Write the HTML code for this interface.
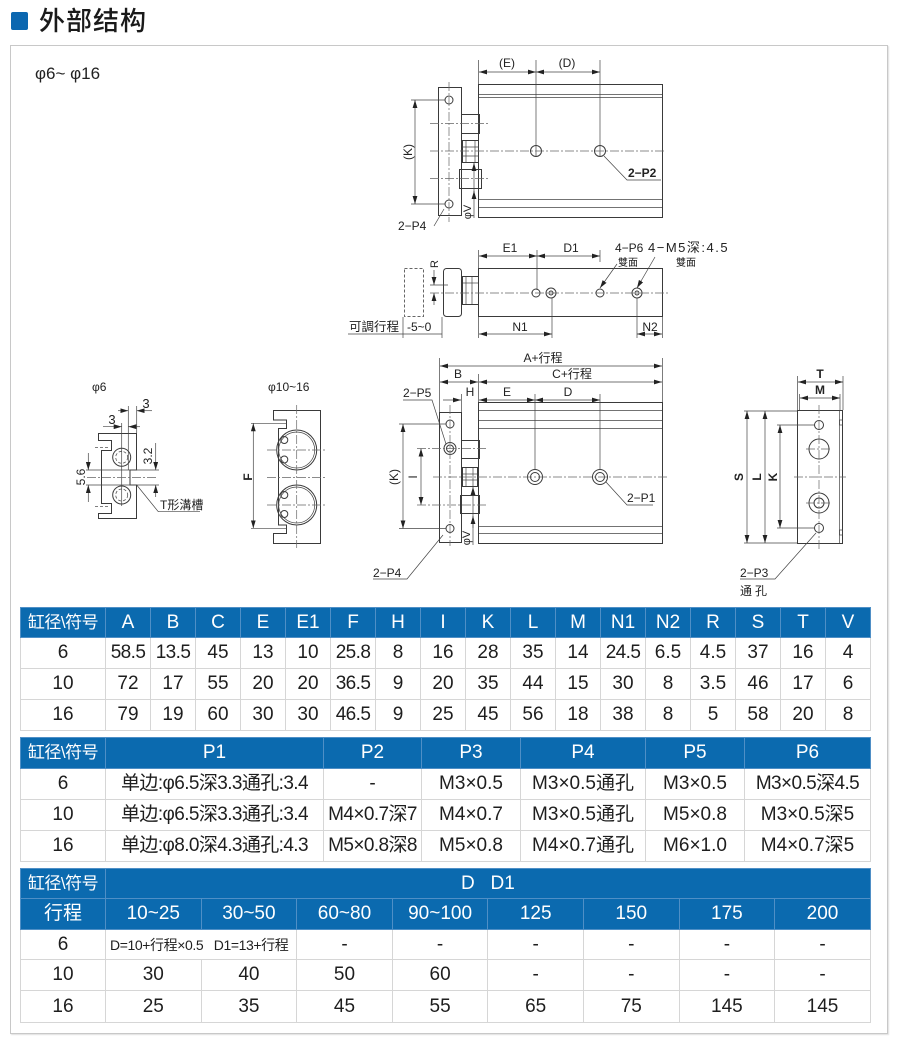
<!DOCTYPE html>
<html><head><meta charset="utf-8">
<style>
html,body{margin:0;padding:0;background:#fff;}
body{width:900px;height:1048px;position:relative;overflow:hidden;font-family:"Liberation Sans","Noto Sans CJK SC",sans-serif;}
.sq{position:absolute;left:11px;top:12px;width:17px;height:18px;background:#0b67b0;border-radius:2px;}
.title{position:absolute;left:39px;top:3px;font-size:26px;line-height:36px;color:#1a1a1a;font-family:"Liberation Sans","Noto Sans CJK SC",sans-serif;font-weight:500;letter-spacing:1px;}
.box{position:absolute;left:10px;top:45px;width:876px;height:987px;border:1px solid #c8c8c8;box-shadow:1px 1px 1px #e0e0e0;}
.phi{position:absolute;left:35px;top:64px;font-size:17px;color:#222;}
svg{position:absolute;left:0;top:0;}
table{position:absolute;border-collapse:collapse;table-layout:fixed;font-family:"Liberation Sans","Noto Sans CJK SC",sans-serif;color:#1e1e1e;}
td{border:1px solid #d6d6d6;text-align:center;vertical-align:middle;padding:0;white-space:nowrap;font-size:19px;line-height:20px;overflow:hidden;}
tr.h td{background:#0b6aaf;color:#fff;border-color:#4f8fc6;}
td.k{font-size:17px;letter-spacing:-0.5px;}
td.s{letter-spacing:-0.6px;}
</style></head><body>
<div class="sq"></div>
<div class="title">外部结构</div>
<div class="box"></div>
<div class="phi">φ6~ φ16</div>

<svg width="900" height="600" viewBox="0 0 900 600" xmlns="http://www.w3.org/2000/svg">
<defs>
<marker id="a" viewBox="0 0 10 6" refX="10" refY="3" markerWidth="8" markerHeight="5" markerUnits="userSpaceOnUse" orient="auto-start-reverse"><path d="M0,0L10,3L0,6z" fill="#222"/></marker>
</defs>
<style>
.l{stroke:#3a3a3a;stroke-width:1;fill:none;}
.t{stroke:#444;stroke-width:0.7;fill:none;}
.c{stroke:#666;stroke-width:0.7;stroke-dasharray:9 2 2 2;fill:none;}
.d{stroke:#555;stroke-width:0.8;stroke-dasharray:3 2;fill:none;}
text{font-family:"Liberation Sans","Noto Sans CJK SC",sans-serif;fill:#222;font-size:12px;}
.b{font-weight:bold;}
</style>

<!-- ============ TOP VIEW ============ -->
<g class="l">
<rect x="438.5" y="87.5" width="23" height="128"/>
<circle cx="449" cy="100" r="4"/>
<circle cx="449" cy="204" r="4"/>
<rect x="461.5" y="114.5" width="18" height="19"/>
<rect x="459.5" y="169.5" width="22" height="19"/>
<rect x="462.5" y="140.5" width="16" height="22"/>
<rect x="478.5" y="84.5" width="184" height="133"/>
<circle cx="536" cy="151" r="5.5"/>
<circle cx="600" cy="151" r="5.5"/>
</g>
<g class="t">
<line x1="466" y1="141" x2="466" y2="162"/><line x1="475" y1="141" x2="475" y2="162"/>
<line x1="462" y1="147" x2="479" y2="147"/><line x1="462" y1="156" x2="479" y2="156"/>
<line x1="479" y1="94.5" x2="662" y2="94.5"/><line x1="479" y1="97.5" x2="662" y2="97.5"/>
<line x1="479" y1="199.5" x2="662" y2="199.5"/><line x1="479" y1="207.5" x2="662" y2="207.5"/>
<line x1="478.5" y1="60" x2="478.5" y2="84"/>
<line x1="536" y1="60" x2="536" y2="157"/>
<line x1="600" y1="60" x2="600" y2="157"/>
<line x1="479" y1="72" x2="536" y2="72" marker-start="url(#a)" marker-end="url(#a)"/>
<line x1="536" y1="72" x2="600" y2="72" marker-start="url(#a)" marker-end="url(#a)"/>
<line x1="411" y1="100" x2="445" y2="100"/><line x1="411" y1="204" x2="445" y2="204"/>
<line x1="415" y1="100" x2="415" y2="204" marker-start="url(#a)" marker-end="url(#a)"/>
<polyline points="604,156 627,180 661,180" />
<polyline points="444,209 434,226"/>
<line x1="474" y1="218" x2="474" y2="163" marker-end="url(#a)"/>
<line x1="474" y1="198" x2="474" y2="191" marker-end="url(#a)"/>
</g>
<g class="c">
<line x1="449" y1="82" x2="449" y2="222"/>
<line x1="430" y1="151" x2="666" y2="151"/>
<line x1="430" y1="123.5" x2="488" y2="123.5"/>
<line x1="430" y1="178.5" x2="488" y2="178.5"/>
</g>
<text x="507" y="67" text-anchor="middle">(E)</text>
<text x="567" y="67" text-anchor="middle">(D)</text>
<text transform="translate(412,152) rotate(-90)" text-anchor="middle">(K)</text>
<text x="628" y="177" class="b">2−P2</text>
<text x="398" y="230">2−P4</text>
<text transform="translate(471,212) rotate(-90)" text-anchor="middle" style="font-size:11px">φV</text>

<!-- ============ SIDE VIEW ============ -->
<g class="l">
<rect x="404.5" y="268.5" width="19" height="48" style="stroke-dasharray:3 2;stroke:#666"/>
<rect x="443.5" y="268.5" width="18" height="48" rx="3"/>
<rect x="462.5" y="276.5" width="16" height="28"/>
<rect x="478.5" y="268.5" width="184" height="48"/>
<circle cx="536" cy="293" r="4"/>
<circle cx="551" cy="293" r="5"/><circle cx="551" cy="293" r="2"/>
<circle cx="600" cy="293" r="4"/>
<circle cx="637" cy="293" r="5"/><circle cx="637" cy="293" r="2"/>
</g>
<g class="t">
<line x1="466" y1="277" x2="466" y2="304"/><line x1="472" y1="277" x2="472" y2="304"/>
<line x1="463" y1="283" x2="478" y2="283"/>
<line x1="434" y1="270" x2="434" y2="285" marker-end="url(#a)"/>
<line x1="434" y1="305" x2="434" y2="293" marker-end="url(#a)"/>
<line x1="430" y1="285" x2="448" y2="285"/>
<line x1="478.5" y1="250" x2="478.5" y2="268"/>
<line x1="537" y1="250" x2="537" y2="290"/>
<line x1="600" y1="250" x2="600" y2="262"/>
<line x1="479" y1="256" x2="537" y2="256" marker-start="url(#a)" marker-end="url(#a)"/>
<line x1="537" y1="256" x2="600" y2="256" marker-start="url(#a)" marker-end="url(#a)"/>
<line x1="600" y1="288" x2="617" y2="264" marker-start="url(#a)"/>
<line x1="637" y1="288" x2="655" y2="257" marker-start="url(#a)"/>
<line x1="552" y1="298" x2="552" y2="338"/>
<line x1="478.5" y1="317" x2="478.5" y2="338"/>
<line x1="637" y1="298" x2="637" y2="338"/>
<line x1="662.5" y1="317" x2="662.5" y2="338"/>
<line x1="479" y1="334" x2="552" y2="334" marker-start="url(#a)" marker-end="url(#a)"/>
<line x1="637" y1="334" x2="662" y2="334" marker-start="url(#a)" marker-end="url(#a)"/>
<line x1="403" y1="317" x2="403" y2="338"/>
<line x1="442" y1="317" x2="442" y2="338"/>
<line x1="348" y1="334" x2="442" y2="334"/>
</g>
<g class="c">
<line x1="430" y1="293" x2="670" y2="293"/>
</g>
<text transform="translate(438,264) rotate(-90)" text-anchor="middle" style="font-size:11px">R</text>
<text x="510" y="252" text-anchor="middle">E1</text>
<text x="571" y="252" text-anchor="middle">D1</text>
<text x="615" y="252">4−P6</text>
<text x="618" y="266" style="font-size:10px">雙面</text>
<text x="648" y="252" style="font-size:13px;letter-spacing:1.5px">4−M5深:4.5</text>
<text x="676" y="266" style="font-size:10px">雙面</text>
<text x="520" y="331" text-anchor="middle">N1</text>
<text x="650" y="331" text-anchor="middle">N2</text>
<text x="349" y="331" style="font-size:12.5px">可調行程</text>
<text x="407" y="331">-5~0</text>

<!-- ============ MAIN VIEW ============ -->
<g class="l">
<rect x="439.5" y="412.5" width="22" height="130"/>
<circle cx="450" cy="424" r="4"/>
<circle cx="450" cy="448.5" r="6"/><circle cx="450" cy="448.5" r="3.5"/>
<circle cx="450" cy="528.5" r="4"/>
<rect x="461.5" y="440.5" width="18" height="18"/>
<rect x="462.5" y="467.5" width="15" height="19"/>
<rect x="460.5" y="495.5" width="19" height="18"/>
<rect x="478.5" y="402.5" width="184" height="141"/>
<circle cx="535" cy="477" r="7.5"/><circle cx="535" cy="477" r="4.5"/>
<circle cx="600" cy="477" r="7.5"/><circle cx="600" cy="477" r="4.5"/>
</g>
<g class="t">
<line x1="466" y1="468" x2="466" y2="486"/><line x1="473" y1="468" x2="473" y2="486"/>
<line x1="463" y1="474" x2="477" y2="474"/><line x1="463" y1="480" x2="477" y2="480"/>
<line x1="479" y1="410.5" x2="662" y2="410.5"/>
<line x1="479" y1="420.5" x2="662" y2="420.5"/>
<line x1="479" y1="428.5" x2="662" y2="428.5"/>
<line x1="479" y1="526.5" x2="662" y2="526.5"/>
<line x1="479" y1="533.5" x2="662" y2="533.5"/>
<line x1="439.5" y1="358" x2="439.5" y2="412"/>
<line x1="662.5" y1="358" x2="662.5" y2="402"/>
<line x1="478.5" y1="374" x2="478.5" y2="402"/>
<line x1="461.5" y1="394" x2="461.5" y2="412"/>
<line x1="535" y1="394" x2="535" y2="470"/>
<line x1="600" y1="394" x2="600" y2="470"/>
<line x1="440" y1="366" x2="662" y2="366" marker-start="url(#a)" marker-end="url(#a)"/>
<line x1="440" y1="382" x2="478" y2="382" marker-start="url(#a)" marker-end="url(#a)"/>
<line x1="479" y1="382" x2="662" y2="382" marker-start="url(#a)" marker-end="url(#a)"/>
<line x1="443" y1="400" x2="461" y2="400" marker-end="url(#a)"/>
<line x1="479" y1="400" x2="535" y2="400" marker-start="url(#a)" marker-end="url(#a)"/>
<line x1="535" y1="400" x2="600" y2="400" marker-start="url(#a)" marker-end="url(#a)"/>
<line x1="399" y1="424" x2="446" y2="424"/>
<line x1="399" y1="528.5" x2="446" y2="528.5"/>
<line x1="403" y1="424" x2="403" y2="528.5" marker-start="url(#a)" marker-end="url(#a)"/>
<line x1="421" y1="448.5" x2="421" y2="505" marker-start="url(#a)" marker-end="url(#a)"/>
<polyline points="403,400 432,400 446,444"/>
<polyline points="606,482 627,505 653,505"/>
<polyline points="443,535 407,579 373,579"/>
<line x1="473" y1="545" x2="473" y2="487" marker-end="url(#a)"/>
<line x1="473" y1="528" x2="473" y2="516" marker-end="url(#a)"/>
</g>
<g class="c">
<line x1="450" y1="405" x2="450" y2="546"/>
<line x1="433" y1="477" x2="667" y2="477"/>
<line x1="417" y1="448.5" x2="488" y2="448.5"/>
<line x1="417" y1="505" x2="488" y2="505"/>
</g>
<text x="543" y="362" text-anchor="middle">A+行程</text>
<text x="458" y="378" text-anchor="middle">B</text>
<text x="572" y="378" text-anchor="middle">C+行程</text>
<text x="470" y="396" text-anchor="middle">H</text>
<text x="507" y="396" text-anchor="middle">E</text>
<text x="568" y="396" text-anchor="middle">D</text>
<text x="403" y="397">2−P5</text>
<text x="627" y="502">2−P1</text>
<text x="373" y="577">2−P4</text>
<text transform="translate(398,477) rotate(-90)" text-anchor="middle">(K)</text>
<text transform="translate(417,477) rotate(-90)" text-anchor="middle">I</text>
<text transform="translate(470,538) rotate(-90)" text-anchor="middle" style="font-size:11px">φV</text>

<!-- ============ END VIEW ============ -->
<g class="l">
<rect x="797.5" y="410.5" width="45" height="133"/>
<circle cx="819" cy="425" r="4.5"/>
<circle cx="819" cy="449" r="10"/>
<circle cx="819" cy="503" r="10"/><circle cx="819" cy="503" r="5"/>
<circle cx="819" cy="528" r="4.5"/>
</g>
<g class="t">
<line x1="839.5" y1="411" x2="839.5" y2="543"/>
<rect x="839.5" y="420" width="3" height="5"/>
<rect x="839.5" y="530" width="3" height="5"/>
<line x1="797.5" y1="376" x2="797.5" y2="410"/>
<line x1="843" y1="376" x2="843" y2="410"/>
<line x1="799.5" y1="394" x2="799.5" y2="410"/>
<line x1="840" y1="394" x2="840" y2="410"/>
<line x1="798" y1="382" x2="843" y2="382" marker-start="url(#a)" marker-end="url(#a)"/>
<line x1="800" y1="398" x2="840" y2="398" marker-start="url(#a)" marker-end="url(#a)"/>
<line x1="744" y1="411" x2="797" y2="411"/>
<line x1="744" y1="543" x2="797" y2="543"/>
<line x1="777" y1="425" x2="815" y2="425"/>
<line x1="777" y1="528" x2="815" y2="528"/>
<line x1="747" y1="411" x2="747" y2="543" marker-start="url(#a)" marker-end="url(#a)"/>
<line x1="765" y1="411" x2="765" y2="543" marker-start="url(#a)" marker-end="url(#a)"/>
<line x1="780" y1="425" x2="780" y2="528" marker-start="url(#a)" marker-end="url(#a)"/>
<polyline points="740,579 775,579 816,533"/>
</g>
<g class="c">
<line x1="819" y1="405" x2="819" y2="549"/>
<line x1="794" y1="477" x2="846" y2="477"/>
<line x1="806" y1="449" x2="832" y2="449"/>
<line x1="806" y1="503" x2="832" y2="503"/>
</g>
<text x="820" y="378" text-anchor="middle" class="b">T</text>
<text x="820" y="394" text-anchor="middle" class="b">M</text>
<text transform="translate(743,477) rotate(-90)" text-anchor="middle" class="b">S</text>
<text transform="translate(761,477) rotate(-90)" text-anchor="middle" class="b">L</text>
<text transform="translate(777,477) rotate(-90)" text-anchor="middle" class="b">K</text>
<text x="740" y="577">2−P3</text>
<text x="740" y="595" style="letter-spacing:3px">通孔</text>

<!-- ============ φ6 PROFILE ============ -->
<text x="92" y="391">φ6</text>
<path class="l" d="M98.5,433.5 H136.5 V470 H130 V485 H136.5 V518.5 H98.5 V513.5 H111.5 V503.5 H101.5 V450.5 H111.5 V440.5 H98.5 Z"/>
<g class="l">
<circle cx="121.7" cy="457.3" r="9"/>
<circle cx="121.7" cy="495" r="9"/>
</g>
<g class="d">
<circle cx="121.7" cy="457.3" r="6"/>
<circle cx="121.7" cy="495" r="6"/>
<line x1="95" y1="447.5" x2="110" y2="447.5"/>
<line x1="95" y1="506.5" x2="110" y2="506.5"/>
</g>
<g class="t">
<line x1="128.3" y1="406" x2="128.3" y2="470"/>
<line x1="136.7" y1="406" x2="136.7" y2="433"/>
<line x1="121.7" y1="423" x2="121.7" y2="506"/>
<line x1="118" y1="410.7" x2="128.3" y2="410.7" marker-end="url(#a)"/>
<line x1="152" y1="410.7" x2="136.7" y2="410.7" marker-end="url(#a)"/>
<line x1="103" y1="426.7" x2="121.7" y2="426.7" marker-end="url(#a)"/>
<line x1="140" y1="426.7" x2="128.3" y2="426.7" marker-end="url(#a)"/>
<line x1="130" y1="470" x2="159" y2="470"/>
<line x1="130" y1="485" x2="159" y2="485"/>
<line x1="155.7" y1="443" x2="155.7" y2="470" marker-end="url(#a)"/>
<line x1="155.7" y1="497" x2="155.7" y2="485" marker-end="url(#a)"/>
<line x1="86" y1="470" x2="130" y2="470"/>
<line x1="86" y1="485" x2="130" y2="485"/>
<line x1="88.3" y1="453" x2="88.3" y2="470" marker-end="url(#a)"/>
<line x1="88.3" y1="502" x2="88.3" y2="485" marker-end="url(#a)"/>
<polyline points="136.7,485 158.3,511.7 200,511.7"/>
</g>
<g class="c"><line x1="87" y1="477.5" x2="158" y2="477.5"/></g>
<text x="146" y="408" text-anchor="middle" style="font-size:13px">3</text>
<text x="112" y="424" text-anchor="middle" style="font-size:13px">3</text>
<text transform="translate(152,456) rotate(-90)" text-anchor="middle" style="font-size:12px">3.2</text>
<text transform="translate(85,477) rotate(-90)" text-anchor="middle" style="font-size:12px">5.6</text>
<text x="160" y="509">T形溝槽</text>

<!-- ============ φ10~16 PROFILE ============ -->
<text x="268" y="391">φ10~16</text>
<path class="l" d="M273.5,410.5 H320.5 V543.5 H273.5 V533.5 H286.5 V525 H278.5 V428.5 H286.5 V420 H273.5 Z"/>
<g class="l">
<circle cx="296.7" cy="450" r="20"/>
<circle cx="296.7" cy="505" r="20"/>
<circle cx="284.3" cy="440" r="3.5"/>
<circle cx="284.3" cy="459.5" r="3.5"/>
<circle cx="284.3" cy="495" r="3.5"/>
<circle cx="284.3" cy="514" r="3.5"/>
</g>
<g class="t">
<circle cx="296.7" cy="450" r="18"/>
<circle cx="296.7" cy="505" r="18"/>
<line x1="251" y1="423.3" x2="287" y2="423.3"/>
<line x1="251" y1="528.3" x2="287" y2="528.3"/>
<line x1="253.3" y1="423.3" x2="253.3" y2="528.3" marker-start="url(#a)" marker-end="url(#a)"/>
</g>
<g class="c">
<line x1="296.7" y1="405" x2="296.7" y2="548"/>
<line x1="267" y1="450" x2="327" y2="450"/>
<line x1="267" y1="505" x2="327" y2="505"/>
<line x1="267" y1="477.5" x2="327" y2="477.5"/>
</g>
<text transform="translate(252,477) rotate(-90)" text-anchor="middle" class="b">F</text>
</svg>

<!-- TABLE 1 -->
<table style="left:20px;top:607px;width:850px;">
<colgroup><col style="width:85px"><col span="17" style="width:45px"></colgroup>
<tr class="h" style="height:30px"><td class="k">缸径\符号</td><td>A</td><td>B</td><td>C</td><td>E</td><td>E1</td><td>F</td><td>H</td><td>I</td><td>K</td><td>L</td><td>M</td><td>N1</td><td>N2</td><td>R</td><td>S</td><td>T</td><td>V</td></tr>
<tr style="height:31px"><td>6</td><td class="s">58.5</td><td class="s">13.5</td><td>45</td><td>13</td><td>10</td><td class="s">25.8</td><td>8</td><td>16</td><td>28</td><td>35</td><td>14</td><td class="s">24.5</td><td>6.5</td><td>4.5</td><td>37</td><td>16</td><td>4</td></tr>
<tr style="height:31px"><td>10</td><td>72</td><td>17</td><td>55</td><td>20</td><td>20</td><td class="s">36.5</td><td>9</td><td>20</td><td>35</td><td>44</td><td>15</td><td>30</td><td>8</td><td>3.5</td><td>46</td><td>17</td><td>6</td></tr>
<tr style="height:31px"><td>16</td><td>79</td><td>19</td><td>60</td><td>30</td><td>30</td><td class="s">46.5</td><td>9</td><td>25</td><td>45</td><td>56</td><td>18</td><td>38</td><td>8</td><td>5</td><td>58</td><td>20</td><td>8</td></tr>
</table>

<!-- TABLE 2 -->
<table style="left:20px;top:737px;width:850px;">
<colgroup><col style="width:85px"><col style="width:218px"><col style="width:98px"><col style="width:99px"><col style="width:125px"><col style="width:99px"><col style="width:126px"></colgroup>
<tr class="h" style="height:31px"><td class="k">缸径\符号</td><td>P1</td><td>P2</td><td>P3</td><td>P4</td><td>P5</td><td>P6</td></tr>
<tr style="height:31px"><td>6</td><td class="s">单边:φ6.5深3.3通孔:3.4</td><td>-</td><td>M3×0.5</td><td>M3×0.5通孔</td><td>M3×0.5</td><td class="s">M3×0.5深4.5</td></tr>
<tr style="height:31px"><td>10</td><td class="s">单边:φ6.5深3.3通孔:3.4</td><td class="s">M4×0.7深7</td><td>M4×0.7</td><td>M3×0.5通孔</td><td>M5×0.8</td><td>M3×0.5深5</td></tr>
<tr style="height:31px"><td>16</td><td class="s">单边:φ8.0深4.3通孔:4.3</td><td class="s">M5×0.8深8</td><td>M5×0.8</td><td>M4×0.7通孔</td><td>M6×1.0</td><td>M4×0.7深5</td></tr>
</table>

<!-- TABLE 3 -->
<table style="left:20px;top:868px;width:850px;">
<colgroup><col style="width:85px"><col span="8" style="width:95.6px"></colgroup>
<tr class="h" style="height:30px"><td class="k">缸径\符号</td><td colspan="8">D&nbsp;&nbsp;&nbsp;D1</td></tr>
<tr class="h" style="height:31px"><td>行程</td><td>10~25</td><td>30~50</td><td>60~80</td><td>90~100</td><td>125</td><td>150</td><td>175</td><td>200</td></tr>
<tr style="height:30px"><td>6</td><td colspan="2" style="font-size:14px;letter-spacing:-0.4px;text-align:left;padding-left:4px">D=10+行程×0.5&nbsp;&nbsp;&nbsp;D1=13+行程</td><td>-</td><td>-</td><td>-</td><td>-</td><td>-</td><td>-</td></tr>
<tr style="height:31px"><td>10</td><td>30</td><td>40</td><td>50</td><td>60</td><td>-</td><td>-</td><td>-</td><td>-</td></tr>
<tr style="height:32px"><td>16</td><td>25</td><td>35</td><td>45</td><td>55</td><td>65</td><td>75</td><td>145</td><td>145</td></tr>
</table>
</body></html>
